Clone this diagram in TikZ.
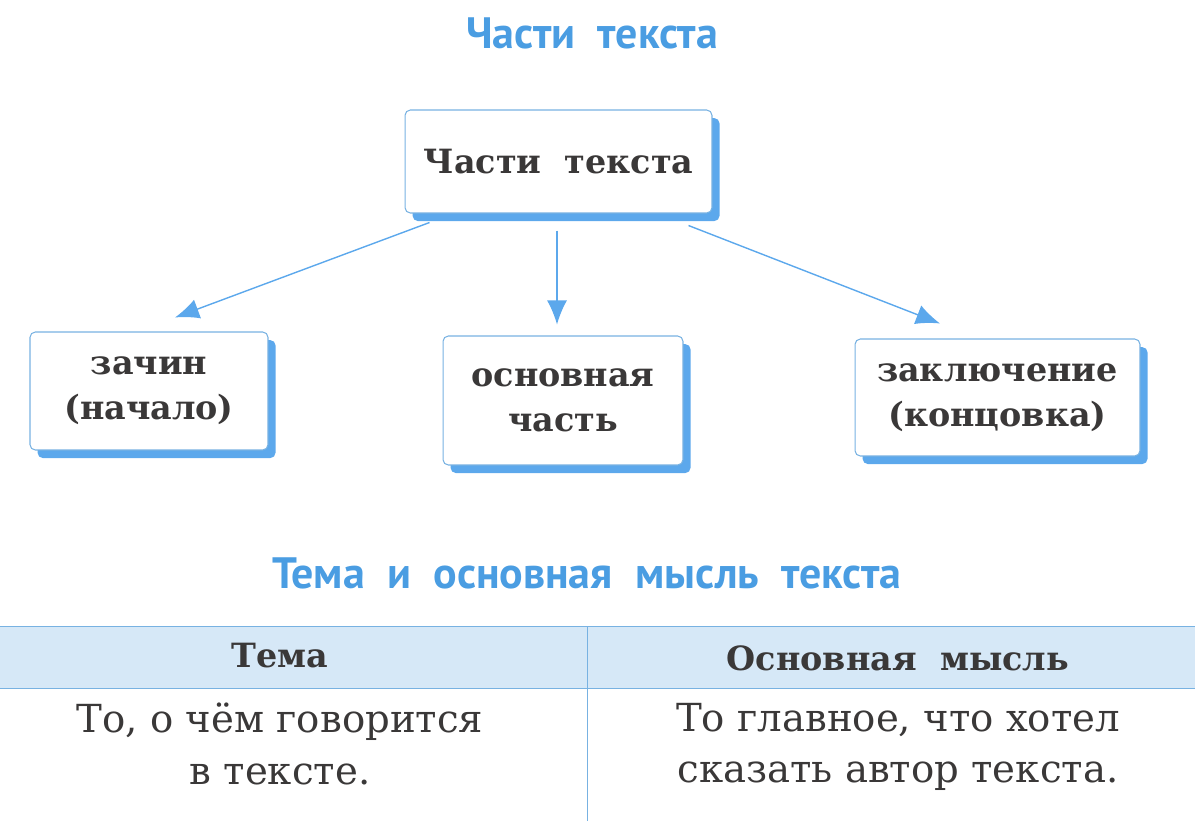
\documentclass[tikz,border=0pt]{standalone}
\usepackage{fontspec}
\setmainfont{DejaVu Serif}
\newfontfamily\headfont{PT Sans}
\usetikzlibrary{arrows.meta, positioning, shadows}

\definecolor{headblue}{HTML}{4A9DE2}
\definecolor{shadeblue}{HTML}{5CA8EC}
\definecolor{rimblue}{HTML}{78B2E2}
\definecolor{bandblue}{HTML}{D6E8F7}
\definecolor{inkgray}{HTML}{3A3838}

\begin{document}
\begin{tikzpicture}[
    x=0.02cm, y=-0.02cm,
    part/.style   = {rectangle, draw=rimblue, semithick, fill=white, rounded corners=3pt,
                     align=center, text=inkgray,
                     font=\fontsize{19}{25.5}\selectfont\bfseries,
                     copy shadow={shadow xshift=4.3pt, shadow yshift=-4.6pt,
                                  fill=shadeblue, draw=none}},
    heading/.style= {font=\headfont\bfseries\fontsize{25}{29}\selectfont,
                     text=headblue},
    colhead/.style= {font=\fontsize{19}{24}\selectfont\bfseries, text=inkgray},
    cell/.style   = {font=\fontsize{22}{29.5}\selectfont, text=inkgray, align=center},
    arrow/.style  = {-{Latex[length=4.8mm, width=4mm]}, draw=shadeblue, thick},
    rule/.style   = {draw=rimblue, thin}
]
\useasboundingbox (0,0) rectangle (1195,821);

% ========= title of the scheme =========
\node[heading] (title) at (592,33) {Части\ \ текста};

% ========= boxes =========
\node[part, minimum width=6.14cm, minimum height=2.06cm] (parts)  at (558.5,161.5) {Части\ \ текста};
\node[part, minimum width=4.76cm, minimum height=2.36cm] (begin)  at (149,391)     {зачин\\(начало)};
\node[part, minimum width=4.80cm, minimum height=2.58cm] (middle) at (563,400.5)   {основная\\часть};
\node[part, minimum width=5.70cm, minimum height=2.34cm] (ending) at (997.5,397.5) {заключение\\(концовка)};

\draw[arrow] ([xshift=0.5cm,yshift=-0.18cm]parts.south west) -- ([xshift=0.52cm,yshift=0.28cm]begin.north);
\draw[arrow] ([xshift=-0.03cm,yshift=-0.34cm]parts.south) -- ([xshift=-0.03cm,yshift=0.22cm]parts.south |- middle.north);
\draw[arrow] ([xshift=-0.48cm,yshift=-0.24cm]parts.south east) -- ([xshift=-1.15cm,yshift=0.3cm]ending.north);

% ========= table =========
\node[heading] (theme) at (587,573) {Тема\ \ и\ \ основная\ \ мысль\ \ текста};

\fill[bandblue] (0,626) rectangle (1195,688);
\draw[rule] (0,626) -- (1195,626);
\draw[rule] (0,688) -- (1195,688);
\draw[rule] (587,626) -- (587,821);

\node[colhead] (topic) at (280,656) {Тема};
\node[colhead] (idea)  at (898,658) {Основная\ \ мысль};
\node[cell] (topictext) at (280,744) {То,\ о\ чём\ говорится\\в\ тексте.};
\node[cell] (ideatext)  at (898,747) {То\ главное,\ что\ хотел\\сказать\ автор\ текста.};

\end{tikzpicture}
\end{document}
